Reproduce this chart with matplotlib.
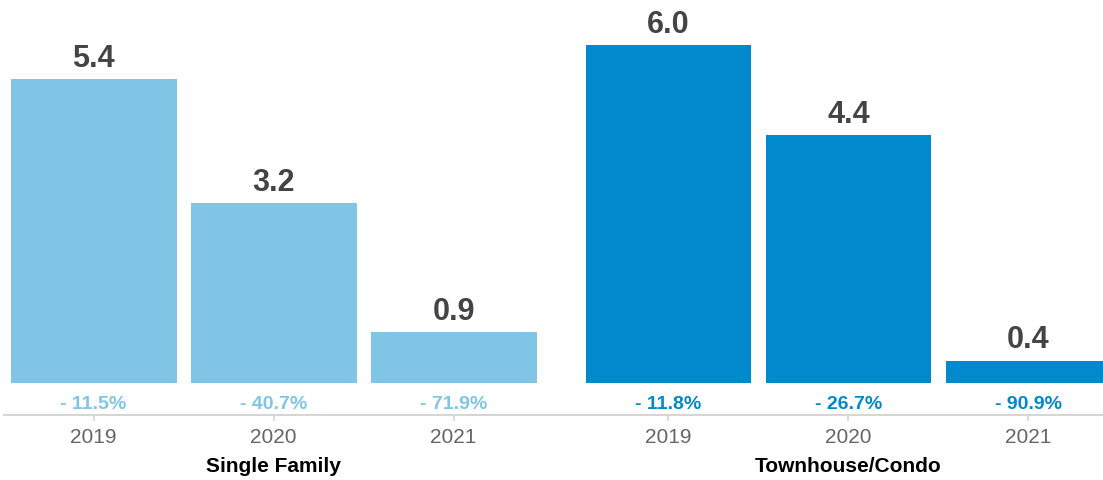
import matplotlib.pyplot as plt
import matplotlib.transforms as mtransforms

plt.rcParams['font.family'] = ['Liberation Sans', 'DejaVu Sans']

years = ['2019', '2020', '2021']
groups = ['Single Family', 'Townhouse/Condo']
single_family = [5.4, 3.2, 0.9]
townhouse = [6.0, 4.4, 0.4]
sf_change = [-11.5, -40.7, -71.9]
th_change = [-11.8, -26.7, -90.9]

light = '#80c5e6'
dark = '#0089cc'

fig = plt.figure(figsize=(11.03, 4.81), dpi=100)
ax = fig.add_axes([0, 0.1351, 1, 0.8649])

gap = 1.194
pos_sf = [0, 1, 2]
pos_th = [p + 2 + gap for p in pos_sf]
w = 0.922

ax.bar(pos_sf, single_family, width=w, color=light)
ax.bar(pos_th, townhouse, width=w, color=dark)

ax.set_xlim(-0.52, 5.608)
ax.set_ylim(-0.568, 6.82)

# value labels above bars, percent change below
for positions, vals, chg, col in [(pos_sf, single_family, sf_change, light),
                                  (pos_th, townhouse, th_change, dark)]:
    for x, v, c in zip(positions, vals, chg):
        ax.annotate('%.1f' % v, xy=(x, v), xytext=(0, 9.4), textcoords='offset points',
                    ha='center', va='baseline', fontsize=22, fontweight='bold', color='#444444')
        ax.annotate('- %.1f%%' % abs(c), xy=(x, 0), xytext=(0, -18), textcoords='offset points',
                    ha='center', va='baseline', fontsize=14, fontweight='bold', color=col)

ax.set_xticks(pos_sf + pos_th)
ax.set_xticklabels(years + years)
ax.tick_params(axis='x', length=4.3, width=1.2, color='#d6d6d6', labelsize=15,
               labelcolor='#666666', pad=4.5)
ax.set_yticks([])

for s in ['top', 'right', 'left']:
    ax.spines[s].set_visible(False)
ax.spines['bottom'].set_color('#d6d6d6')
ax.spines['bottom'].set_linewidth(1.5)
ax.spines['bottom'].set_bounds(-0.5, 5.608)

trans = mtransforms.blended_transform_factory(ax.transData, ax.transAxes)
ax.text(1, -0.1346, groups[0], transform=trans, ha='center', va='baseline',
        fontsize=15, fontweight='bold', color='black')
ax.text(pos_th[1], -0.1346, groups[1], transform=trans, ha='center', va='baseline',
        fontsize=15, fontweight='bold', color='black')

fig.savefig('out.png', dpi=100)
